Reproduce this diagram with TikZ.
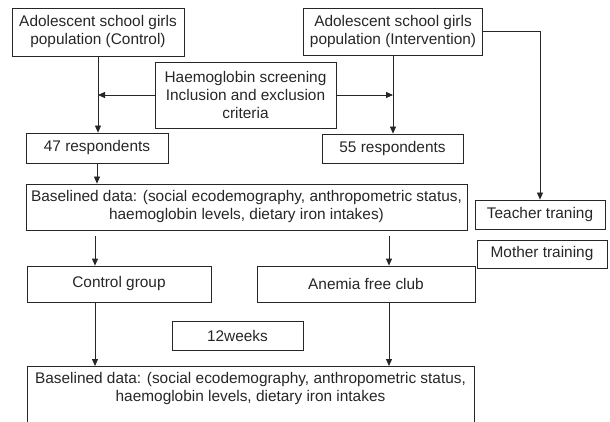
\documentclass[tikz,border=0pt]{standalone}
\usepackage{fontspec}
\setmainfont{Liberation Sans}
\usepackage{tikz}
\usetikzlibrary{arrows.meta, positioning, calc}

\begin{document}
\begin{tikzpicture}[
    x=1pt, y=-1pt,
    box/.style={rectangle, draw=black!85, line width=0.8pt, align=center, inner sep=0pt, text=black!85, font=\fontsize{15.4}{18}\selectfont},
    arr/.style={-{Triangle[length=7pt, width=6pt]}, line width=0.8pt, draw=black!85},
]
\useasboundingbox (0,0) rectangle (610,422);
\clip (0,0) rectangle (610,422);

% Populations
\node[box, minimum width=172, minimum height=48] (popc) at (98, 32) {Adolescent school girls\\population (Control)};
\node[box, minimum width=179, minimum height=47] (popi) at (393, 31.5) {Adolescent school girls\\population (Intervention)};
\node[box, minimum width=181, minimum height=66] (screen) at (245.5, 95) {Haemoglobin screening\\Inclusion and exclusion\\criteria};

% Respondents
\node[box, minimum width=142, minimum height=30] (r47) at (97, 148) {47 respondents};
\node[box, minimum width=141, minimum height=29] (r55) at (392.5, 148.5) {55 respondents};

% Baseline
\node[box, minimum width=441, minimum height=46] (base1) at (246.5, 207) {Baselined data: (social ecodemography, anthropometric status,\\haemoglobin levels, dietary iron intakes)};
\node[box, minimum width=130, minimum height=29] (teacher) at (540, 214.5) {Teacher traning};
\node[box, minimum width=130, minimum height=28] (mother) at (542, 254) {Mother training};

% Groups
\node[box, minimum width=184, minimum height=36] (ctrl) at (119, 284) {Control group};
\node[box, minimum width=218, minimum height=36] (club) at (366, 284) {Anemia free club};
\node[box, minimum width=131, minimum height=29] (weeks) at (237.5, 335.5) {12weeks};
\node[box, anchor=north, minimum width=447, inner ysep=6pt, text depth=50pt] (base2) at (250.5, 366) {Baselined data: (social ecodemography, anthropometric status,\\haemoglobin levels, dietary iron intakes};

\coordinate (c1) at (95, 236);
\coordinate (c2) at (389, 236);

% Connectors
\draw[arr] (popc.south) -- (popc.south |- r47.north);
\draw[arr] (popi.south) -- (popi.south |- r55.north);
\draw[arr] (screen.west) -- (screen.west -| popc.south);
\draw[arr] (screen.east) -- (screen.east -| popi.south);
\draw[arr] (popi.east) -| (teacher.north);
\draw[arr] (r47.south) -- (r47.south |- base1.north);
\draw[arr] (c1) -- (c1 |- ctrl.north);
\draw[arr] (c2) -- (c2 |- club.north);
\draw[arr] (c1 |- ctrl.south) -- (c1 |- base2.north);
\draw[arr] (c2 |- club.south) -- (c2 |- base2.north);
\end{tikzpicture}
\end{document}
